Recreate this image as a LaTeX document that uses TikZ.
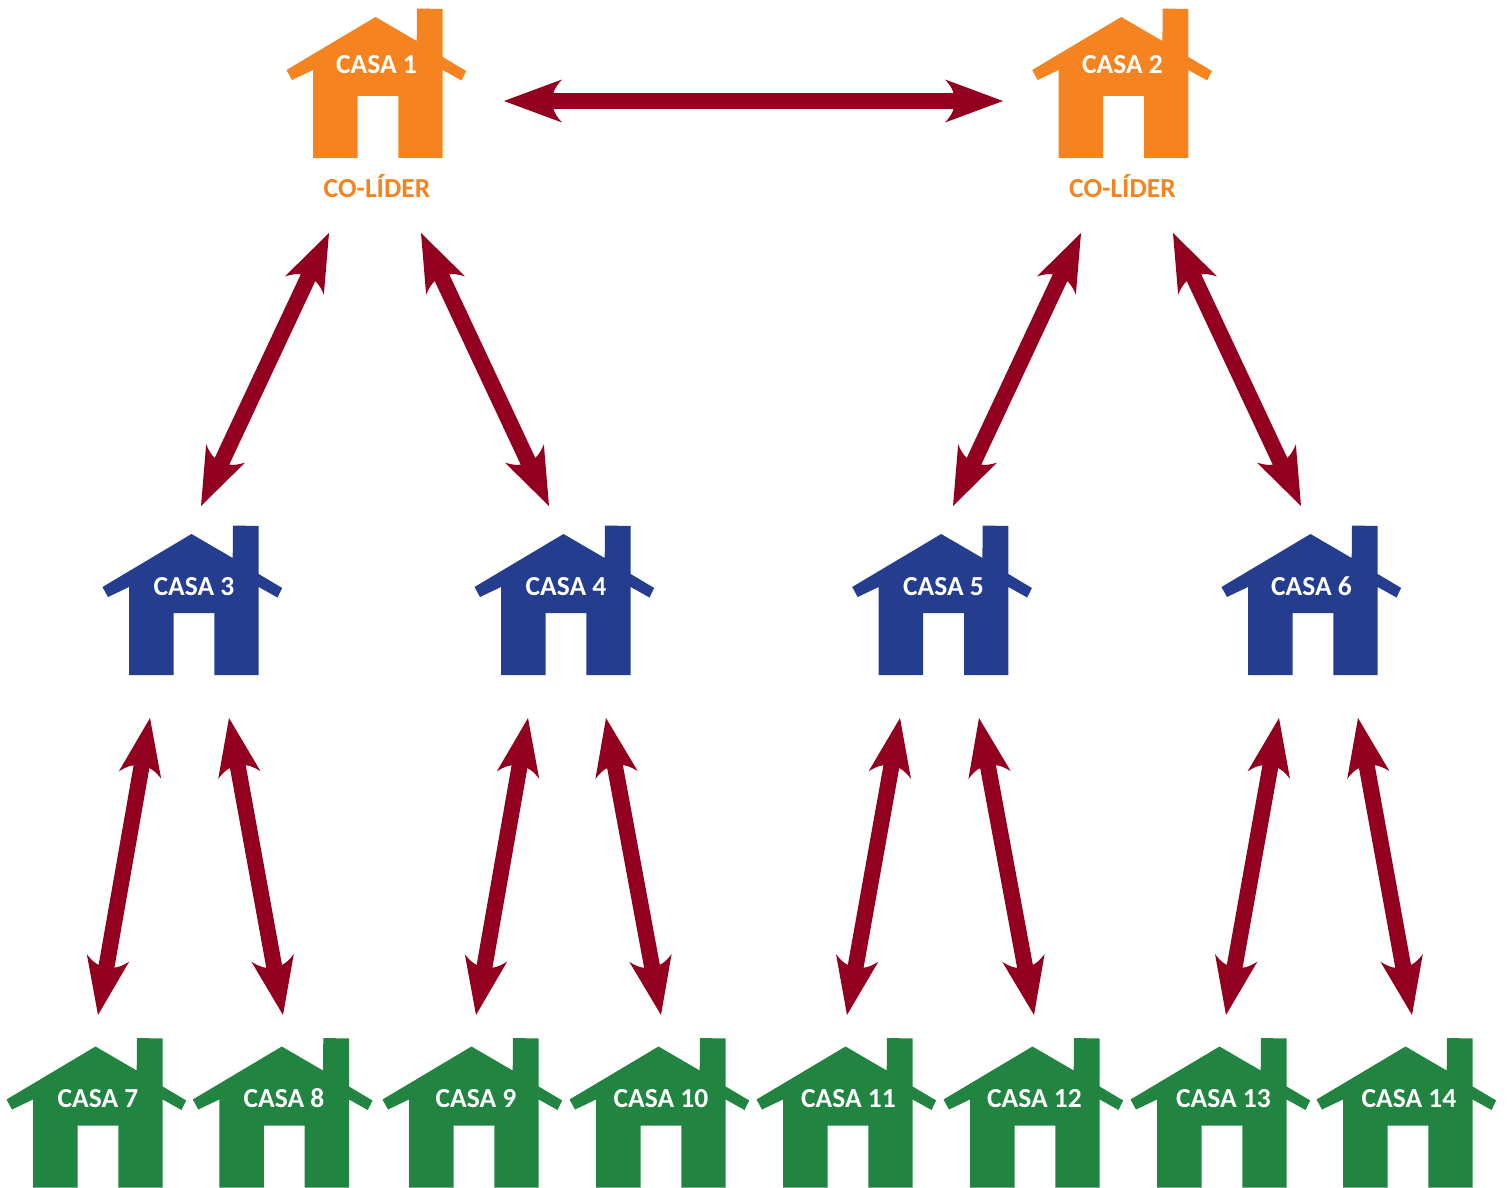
\documentclass[tikz,border=0pt]{standalone}
\usepackage{fontspec}
\setmainfont{Carlito}
\usetikzlibrary{arrows.meta}
\definecolor{cOrange}{HTML}{F58420}
\definecolor{cBlue}{HTML}{253D8E}
\definecolor{cGreen}{HTML}{218541}
\definecolor{cRed}{HTML}{93001F}
\pgfdeclarearrow{
  name=Barbed,
  setup code={
    \pgfarrowssettipend{0pt}
    \pgfarrowssetbackend{-58pt}
    \pgfarrowssetlineend{-44pt}
    \pgfarrowssetvisualbackend{-46pt}
  },
  drawing code={
    \pgfpathmoveto{\pgfqpoint{0pt}{0pt}}
    \pgfpathlineto{\pgfqpoint{-58pt}{21.5pt}}
    \pgfpathcurveto{\pgfqpoint{-53pt}{16pt}}{\pgfqpoint{-50.5pt}{12pt}}{\pgfqpoint{-49.5pt}{8pt}}
    \pgfpathlineto{\pgfqpoint{-49.5pt}{-8pt}}
    \pgfpathcurveto{\pgfqpoint{-50.5pt}{-12pt}}{\pgfqpoint{-53pt}{-16pt}}{\pgfqpoint{-58pt}{-21.5pt}}
    \pgfpathclose
    \pgfusepathqfill
  }
}
\tikzset{
  link/.style={draw=cRed,fill=none,line width=16pt,{Barbed[]}-{Barbed[]},color=cRed},
  houselabel/.style={font=\fontsize{27.5}{27.5}\selectfont\bfseries,text=white,inner sep=0pt,anchor=base},
  role/.style={font=\fontsize{27.5}{27.5}\selectfont\bfseries,text=cOrange,inner sep=0pt,anchor=base}
}
% #1 name, #2 wall x, #3 chimney top y, #4 colour, #5 text, #6 label x, #7 label baseline y
\newcommand{\housepic}[7]{%
  \fill[#4,shift={(#2,#3)}] (104,0) -- (129.7,0.5) -- (129.7,48.5) -- (153.2,62.5) -- (148.5,72) -- (129.7,61.5)
    -- (129.7,149.5) -- (85.3,149.5) -- (85.3,87.5) -- (44.5,87.5) -- (44.5,149.5) -- (0,149.5) -- (0,61.5)
    -- (-21,71.5) -- (-26.5,61.5) -- (62.5,8.5) -- (103.7,32.5) -- cycle;
  \node[houselabel] (#1) at (#6,#7) {#5};
}
\begin{document}
\begin{tikzpicture}[x=1pt,y=-1pt]
\useasboundingbox (0,0) rectangle (1508,1188);
\housepic{h1}{313}{8.5}{cOrange}{CASA 1}{376.5}{74}
\housepic{h2}{1058.7}{8.5}{cOrange}{CASA 2}{1122.5}{74}
\node[role] (r1) at (377,197.5) {CO-LÍDER};
\node[role] (r2) at (1122.5,197.5) {CO-LÍDER};
\housepic{h3}{129}{525.5}{cBlue}{CASA 3}{194}{595}
\housepic{h4}{501}{525.5}{cBlue}{CASA 4}{566}{595}
\housepic{h5}{878.7}{525.5}{cBlue}{CASA 5}{943.5}{595}
\housepic{h6}{1248}{525.5}{cBlue}{CASA 6}{1311.5}{595}
\housepic{h7}{33}{1038}{cGreen}{CASA 7}{98}{1107}
\housepic{h8}{219.3}{1038}{cGreen}{CASA 8}{284}{1107}
\housepic{h9}{409}{1038}{cGreen}{CASA 9}{476}{1107}
\housepic{h10}{596}{1038}{cGreen}{CASA 10}{661}{1107}
\housepic{h11}{783}{1038}{cGreen}{CASA 11}{848.5}{1107}
\housepic{h12}{970}{1038}{cGreen}{CASA 12}{1034.5}{1107}
\housepic{h13}{1157}{1038}{cGreen}{CASA 13}{1223.5}{1107}
\housepic{h14}{1343}{1038}{cGreen}{CASA 14}{1409}{1107}
% connector ends
\coordinate (a12l) at (504,101); \coordinate (a12r) at (1003,101);
\coordinate (a13t) at (329,233); \coordinate (a13b) at (201,506);
\coordinate (a14t) at (421,233); \coordinate (a14b) at (549,506);
\coordinate (a25t) at (1081,233); \coordinate (a25b) at (953,506);
\coordinate (a26t) at (1173,233); \coordinate (a26b) at (1301,506);
\coordinate (a37t) at (150,718); \coordinate (a37b) at (98,1015);
\coordinate (a38t) at (229,718); \coordinate (a38b) at (283,1015);
\coordinate (a49t) at (528,718); \coordinate (a49b) at (476,1015);
\coordinate (a410t) at (606,718); \coordinate (a410b) at (661,1015);
\coordinate (a511t) at (900,718); \coordinate (a511b) at (847,1015);
\coordinate (a512t) at (979,718); \coordinate (a512b) at (1034,1015);
\coordinate (a613t) at (1279,718); \coordinate (a613b) at (1226,1015);
\coordinate (a614t) at (1358,718); \coordinate (a614b) at (1412,1015);
\draw[link] (a12l) -- (a12r);
\foreach \n in {13,14,25,26,37,38,49,410,511,512,613,614}{
  \draw[link] (a\n t) -- (a\n b);
}
\end{tikzpicture}
\end{document}
